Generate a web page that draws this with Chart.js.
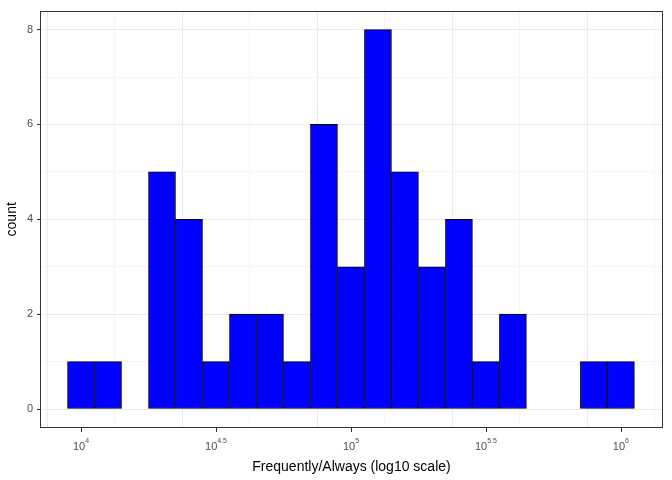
<!DOCTYPE html>
<html><head><meta charset="utf-8">
<script src="https://cdn.jsdelivr.net/npm/chart.js@4"></script>
<style>body{margin:0;background:#fff}#w{width:672px;height:480px}</style>
</head><body><div id="w"><canvas id="c"></canvas></div>
<script>
const binCenters = [4.0,4.1,4.2,4.3,4.4,4.5,4.6,4.7,4.8,4.9,5.0,5.1,5.2,5.3,5.4,5.5,5.6,5.7,5.8,5.9,6.0];
const counts =     [1,1,0,5,4,1,2,2,1,6,3,8,5,3,4,1,2,0,0,1,1];
const xTickExps = [4, 4.5, 5, 5.5, 6];
const yTicks = [0,2,4,6,8];

function tv(c){ return (c && c.tick && typeof c.tick.value==='number') ? c.tick.value : null; }

const supPlugin = {
  id:'sup',
  afterDraw(chart){
    const ctx = chart.ctx, xs = chart.scales.x, a = chart.chartArea, y0 = a.bottom;
    ctx.save(); ctx.fillStyle='#4D4D4D'; ctx.textBaseline='alphabetic';
    xTickExps.forEach(e=>{
      const px = xs.getPixelForValue(e);
      const exp = String(e);
      ctx.font='11px "Liberation Sans", Arial';
      const bw = ctx.measureText('10').width;
      ctx.font='7px "Liberation Sans", Arial';
      const ew = ctx.measureText(exp).width;
      const start = px - (bw+ew)/2;
      ctx.font='11px "Liberation Sans", Arial';
      ctx.textAlign='left';
      ctx.fillText('10', start, y0+22);
      ctx.font='7px "Liberation Sans", Arial';
      ctx.fillText(exp, start+bw, y0+15);
    });
    ctx.strokeStyle='#333'; ctx.lineWidth=1;
    xTickExps.forEach(e=>{const p=Math.round(xs.getPixelForValue(e))+0.5; ctx.beginPath(); ctx.moveTo(p,y0); ctx.lineTo(p,y0+4); ctx.stroke();});
    ctx.strokeRect(Math.round(a.left)+0.5,Math.round(a.top)+0.5,Math.round(a.right-a.left)-1,Math.round(a.bottom-a.top)-1);
    ctx.restore();
  }
};

new Chart(document.getElementById('c'),{
  type:'bar',
  data:{datasets:[{
    data: binCenters.map((x,i)=>({x, y:counts[i]})),
    backgroundColor:'#0000FF', borderColor:'#000', borderWidth:1, borderSkipped:false,
    barPercentage:1, categoryPercentage:1, grouped:false
  }]},
  options:{
    responsive:true, maintainAspectRatio:false, animation:false,
    layout:{padding:{left:0,right:9,top:8,bottom:0}},
    plugins:{legend:{display:false},tooltip:{enabled:false}},
    scales:{
      x:{type:'linear', min:3.848, max:6.156, offset:false,
        afterBuildTicks(s){ s.ticks=[4,4.25,4.5,4.75,5,5.25,5.5,5.75,6].map(v=>({value:v})); },
        ticks:{callback:()=>' ', maxRotation:0, autoSkip:false},
        afterFit(s){ s.height=52; },
        grid:{color:c=>{const v=tv(c); return v!==null && Number.isInteger(v*2)?'#EBEBEB':'#F5F5F5';}, drawTicks:false},
        border:{display:false},
        title:{display:true,text:'Frequently/Always (log10 scale)',color:'#000',font:{size:14,family:'"Liberation Sans", Arial'},padding:{top:20}}
      },
      y:{min:-0.4, max:8.4,
        afterBuildTicks(s){ s.ticks=[0,1,2,3,4,5,6,7,8].map(v=>({value:v})); },
        ticks:{callback:v=>yTicks.includes(v)?String(v):'', color:'#4D4D4D', font:{size:11,family:'"Liberation Sans", Arial'}, padding:4, autoSkip:false},
        afterFit(s){ s.width=40; },
        grid:{color:c=>{const v=tv(c); return v!==null && v%2===0?'#EBEBEB':'#F5F5F5';}, tickLength:3,
              tickColor:c=>{const v=tv(c); return v!==null && v%2===0?'#333':'rgba(0,0,0,0)';}},
        border:{display:false},
        title:{display:true,text:'count',color:'#000',font:{size:14,family:'"Liberation Sans", Arial'},padding:{bottom:2}}
      }
    }
  },
  plugins:[supPlugin]
});
</script></body></html>
